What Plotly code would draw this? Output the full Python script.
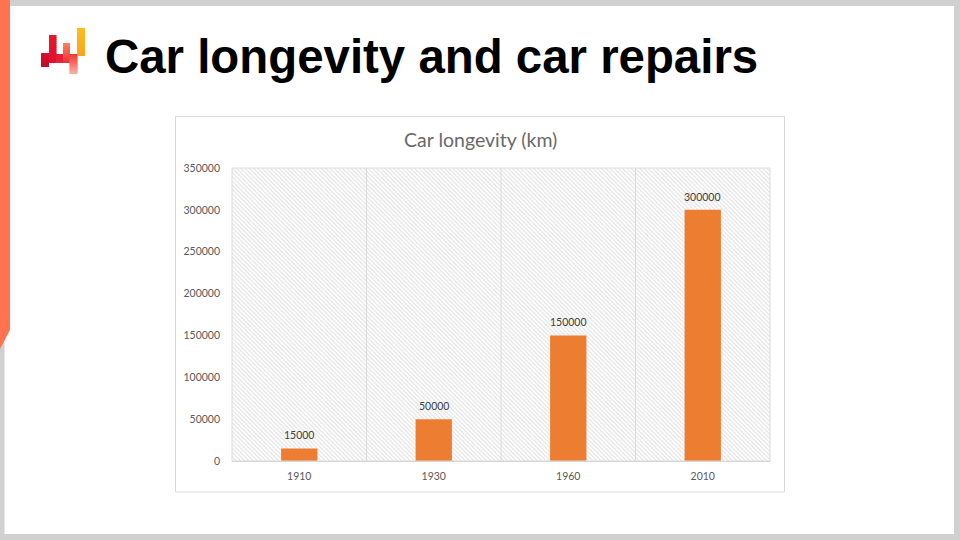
import plotly.graph_objects as go

years = ["1910", "1930", "1960", "2010"]
longevity = [15000, 50000, 150000, 300000]
axis_top = [350000, 350000, 350000, 350000]
y_ticks = [0, 50000, 100000, 150000, 200000, 250000, 300000, 350000]

W, H = 960, 540
def px(x): return x / W
def py(y): return 1 - y / H

def rect(x0, y0, x1, y1, color, width=0, line=None):
    return dict(type="rect", xref="paper", yref="paper", x0=px(x0), x1=px(x1),
                y0=py(y0), y1=py(y1), fillcolor=color,
                line=dict(width=width, color=line or color), layer="below")

def lerp(a, b, t):
    return tuple(round(a[i] + (b[i] - a[i]) * t) for i in range(3))

def gradient(x0, y0, x1, y1, top, bottom, steps=14):
    out = []
    for i in range(steps):
        c = lerp(top, bottom, i / (steps - 1))
        ya = y0 + (y1 - y0) * i / steps
        yb = y0 + (y1 - y0) * (i + 1) / steps
        if i < steps - 1:
            yb += 0.8
        out.append(rect(x0, ya, x1, yb, "rgb(%d,%d,%d)" % c))
    return out

shapes = [
    rect(0, 0, 960, 540, "#d0d0d0"),
    rect(4.5, 6, 954, 534, "#ffffff"),
    dict(type="path", xref="paper", yref="paper", layer="below", line=dict(width=0),
         fillcolor="#ff7350",
         path="M %f %f L %f %f L %f %f L %f %f Z" % (
             0, 1, px(10), 1, px(10), py(330), 0, py(349))),
    rect(175.5, 116.5, 784.5, 492, "#ffffff", 1, "#d9d9d9"),
]
shapes += gradient(41, 53, 49, 67, (215, 15, 45), (195, 10, 40))
shapes += gradient(49, 35, 56.5, 63, (225, 25, 45), (225, 15, 50))
shapes += gradient(56, 54, 63.5, 63, (225, 30, 50), (230, 35, 55), 4)
shapes += gradient(63, 43, 70, 63, (250, 130, 90), (235, 50, 60))
shapes += gradient(69.5, 54, 77.5, 74, (240, 60, 50), (255, 170, 160))
shapes += gradient(77, 28, 85, 56, (253, 190, 30), (250, 165, 30))

fig = go.Figure()
fig.add_bar(x=years, y=axis_top, width=1, hoverinfo="skip", showlegend=False,
            marker=dict(color="#ffffff", line_width=0,
                        pattern=dict(shape="\\", fgcolor="#c8c8c8", bgcolor="#ffffff",
                                     size=3, solidity=0.4)))
fig.add_bar(x=years, y=longevity, width=0.27, showlegend=False,
            marker=dict(color="#ed7d31", line_width=0))

annotations = [
    dict(text="<b>Car longevity and car repairs</b>", xref="paper", yref="paper",
         x=px(103), y=py(56), xanchor="left", yanchor="middle", showarrow=False,
         font=dict(family="Liberation Sans", size=47.4, color="#000000")),
    dict(text="Car longevity (km)", xref="paper", yref="paper",
         x=px(480), y=py(139), xanchor="center", yanchor="middle", showarrow=False,
         font=dict(family="Lato", size=19.5, color="#6a6a6a")),
]
for i, value in enumerate(longevity):
    annotations.append(dict(text=str(value), x=i, y=value, xref="x", yref="y",
                            yanchor="bottom", yshift=5, showarrow=False,
                            font=dict(family="Lato", size=10.5, color="#404040")))

fig.update_layout(
    width=W, height=H, margin=dict(l=0, r=0, t=0, b=0), barmode="overlay",
    paper_bgcolor="#ffffff", plot_bgcolor="rgba(0,0,0,0)", shapes=shapes,
    font=dict(family="Lato", color="#595959", size=10.5),
    annotations=annotations,
    xaxis=dict(domain=[px(232), px(770)], anchor="y", type="category", automargin=False,
               categoryorder="array", categoryarray=years, range=[-0.5, 3.5],
               tickmode="array", tickvals=years, ticktext=years,
               showgrid=False, ticks="", linecolor="#d0d0d0", linewidth=1, showline=True,
               tickfont=dict(size=10.5, color="#595959"), ticklabelstandoff=5),
    yaxis=dict(domain=[py(461), py(168)], range=[0, 350000], tickvals=y_ticks, automargin=False,
               ticktext=[str(v) for v in y_ticks], showgrid=True, gridcolor="#dcdcdc",
               gridwidth=1, zeroline=False, showline=False, ticks="",
               tickfont=dict(size=10.5, color="#595959"), ticklabelstandoff=11, layer="above traces"),
)
for i in range(1, 4):
    fig.add_shape(type="line", xref="x domain", yref="y domain", x0=i/4, x1=i/4, y0=0, y1=1,
                  line=dict(color="#dcdcdc", width=1), layer="above")
fig.add_shape(type="rect", xref="x domain", yref="y domain", x0=0, x1=1, y0=0, y1=1,
              line=dict(color="#dcdcdc", width=1), layer="above")
fig.write_html("out.html", post_script="document.body.style.margin='0';",
               config=dict(displayModeBar=False))
